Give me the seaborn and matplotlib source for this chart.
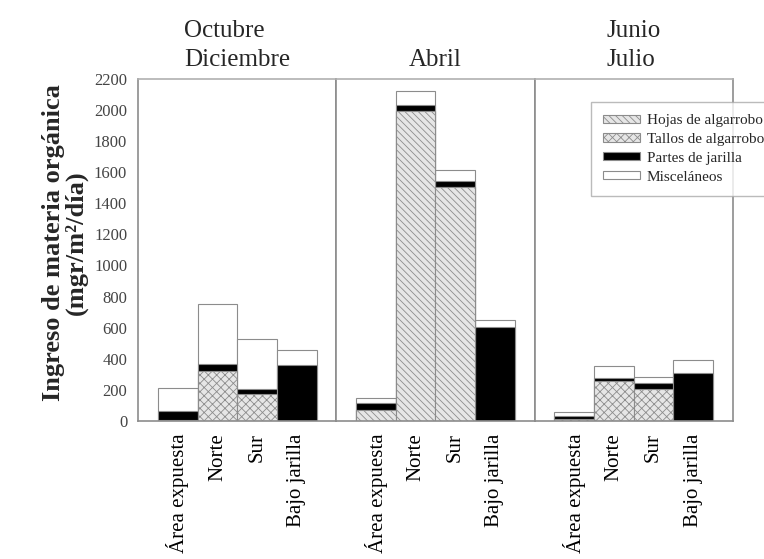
#import libraries
import numpy as np
import matplotlib
matplotlib.use("Agg")
import matplotlib.pyplot as plt
from matplotlib.patches import Patch
import seaborn as sns

#data (mgr/m2/dia)
sites = ["Área expuesta", "Norte", "Sur", "Bajo jarilla"]
periods = ["Octubre\nDiciembre", "Abril", "Junio\nJulio"]
components = ["Hojas de algarrobo", "Tallos de algarrobo", "Partes de jarilla", "Misceláneos"]

hojas = [[0, 0, 0, 0],
         [71, 1996, 1507, 0],
         [0, 0, 0, 0]]
tallos = [[8, 323, 172, 0],
          [0, 0, 0, 0],
          [11, 259, 204, 0]]
jarilla = [[58, 40, 32, 360],
           [47, 36, 38, 602],
           [21, 15, 42, 311]]
misc = [[148, 390, 323, 97],
        [28, 92, 69, 48],
        [28, 82, 39, 81]]

yticks = list(range(0, 2201, 200))

#style
sns.set_style("white")
plt.rcParams["font.family"] = ["Liberation Serif", "DejaVu Serif"]
plt.rcParams["hatch.linewidth"] = 0.6

edge = "#8c8c8c"
fill_light = "#e6e6e6"
layer_style = [
    dict(color=fill_light, hatch="\\\\\\\\\\"),  # hojas
    dict(color=fill_light, hatch="xxxx"),        # tallos
    dict(color="black", hatch=None),             # jarilla
    dict(color="white", hatch=None),             # misc
]

fig, axes = plt.subplots(1, 3, figsize=(7.64, 5.59), dpi=100, sharey=True)
fig.subplots_adjust(left=0.181, right=0.959, bottom=0.247, top=0.859, wspace=0)

for i, ax in enumerate(axes):
    layers = [hojas[i], tallos[i], jarilla[i], misc[i]]
    cum = np.cumsum(np.array(layers), axis=0)
    #draw from the top layer down so lower layers overlap the totals
    for k in range(3, -1, -1):
        st = layer_style[k]
        sns.barplot(x=sites, y=cum[k], color=st["color"], saturation=1,
                    width=1.0, edgecolor=edge, linewidth=0.8,
                    hatch=st["hatch"], ax=ax)
    ax.set_xlim(-1, 4)
    ax.set_ylim(0, 2200)
    ax.set_yticks(yticks)
    ax.set_xticks(range(len(sites)))
    ax.set_xticklabels(sites, rotation=90, va="top", ha="center", fontsize=15)
    ax.set_xlabel("")
    ax.set_title(periods[i], fontsize=18, pad=9, multialignment="left",
                 linespacing=1.45)
    for s in ax.spines.values():
        s.set_color(edge)
        s.set_linewidth(1.2)
    ax.spines["top"].set_color("#b0b0b0")
    ax.tick_params(axis="both", direction="out", length=3, width=0.8, color=edge)
    ax.tick_params(axis="y", labelsize=12, labelcolor="#444444", pad=5)
    ax.tick_params(axis="x", labelcolor="black", pad=6)

axes[0].set_yticklabels([str(v) for v in yticks])
axes[0].set_ylabel("Ingreso de materia orgánica\n(mgr/m²/día)",
                   fontsize=19, fontweight="bold", linespacing=0.95)
axes[0].yaxis.set_label_coords(-0.255, 0.52)

#legend
handles = [Patch(facecolor=layer_style[k]["color"], edgecolor=edge,
                 hatch=layer_style[k]["hatch"], linewidth=0.8)
           for k in range(4)]
fig.legend(handles, components, loc="upper left",
           bbox_to_anchor=(591 / 764, 1 - 102 / 559),
           fontsize=11, frameon=True, fancybox=False, edgecolor="#aaaaaa",
           handlelength=2.4, handleheight=0.45, handletextpad=0.45,
           borderpad=0.8, labelspacing=0.38, borderaxespad=0)

plt.savefig("out.png", dpi=100)
